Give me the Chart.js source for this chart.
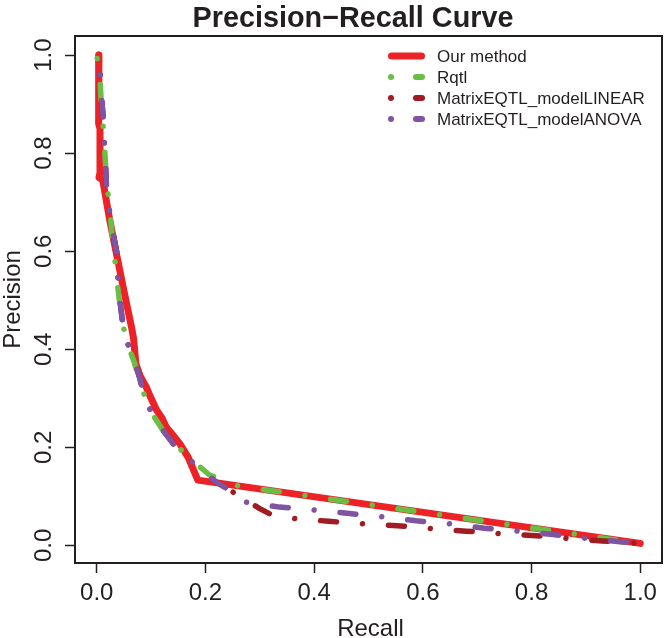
<!DOCTYPE html>
<html><head><meta charset="utf-8">
<script src="https://cdn.jsdelivr.net/npm/chart.js@4/dist/chart.umd.min.js"></script>
<style>html,body{margin:0;padding:0;background:#fff}#wrap{width:664px;height:638px}</style>
</head><body><div id="wrap"><canvas id="c" width="664" height="638"></canvas></div>
<script>
const TITLE = "Precision\u2212Recall Curve";
const X_LABEL = "Recall";
const Y_LABEL = "Precision";
const TICKS = [0, 0.2, 0.4, 0.6, 0.8, 1.0];
const TICK_LABELS = ["0.0", "0.2", "0.4", "0.6", "0.8", "1.0"];
const SERIES_NAMES = ["Our method", "Rqtl", "MatrixEQTL_modelLINEAR", "MatrixEQTL_modelANOVA"];
const SERIES_COLORS = ["#ec2227", "#6cbd45", "#a01c22", "#7e54a3"];

const OUR_RECALL    = [0.004, 0.004, 0.003, 0.006, 0.006, 0.004, 0.011, 0.024, 0.036, 0.051, 0.064, 0.068, 0.072, 0.080, 0.091, 0.100, 0.110, 0.120, 0.128, 0.140, 0.153, 0.168, 0.186, 1.000];
const OUR_PRECISION = [1.000, 0.870, 0.860, 0.850, 0.760, 0.750, 0.745, 0.663, 0.596, 0.514, 0.445, 0.420, 0.370, 0.345, 0.323, 0.300, 0.276, 0.260, 0.241, 0.225, 0.207, 0.180, 0.133, 0.004];

const RQTL_RECALL    = [0.000, 0.006, 0.009, 0.013, 0.017, 0.021, 0.026, 0.030, 0.036, 0.039, 0.045, 0.052, 0.060, 0.070, 0.082, 0.100, 0.128, 0.165, 0.190, 0.208, 0.220, 0.257, 0.318, 1.000];
const RQTL_PRECISION = [1.000, 0.950, 0.890, 0.840, 0.760, 0.714, 0.660, 0.612, 0.558, 0.524, 0.470, 0.430, 0.400, 0.371, 0.323, 0.272, 0.224, 0.184, 0.160, 0.143, 0.139, 0.122, 0.112, 0.004];

const LINEAR_RECALL    = [0.000, 0.006, 0.007, 0.009, 0.011, 0.013, 0.014, 0.016, 0.018, 0.021, 0.024, 0.029, 0.037, 0.039, 0.042, 0.048, 0.055, 0.058, 0.076, 0.091, 0.113, 0.143, 0.189, 0.220, 0.250, 0.300, 0.324, 0.364, 0.427, 0.490, 0.553, 0.616, 0.680, 0.742, 0.818, 0.868, 0.930, 1.000];
const LINEAR_PRECISION = [1.000, 0.970, 0.940, 0.910, 0.885, 0.855, 0.820, 0.780, 0.730, 0.704, 0.677, 0.643, 0.596, 0.548, 0.507, 0.450, 0.422, 0.408, 0.354, 0.292, 0.248, 0.204, 0.156, 0.129, 0.109, 0.075, 0.061, 0.055, 0.049, 0.044, 0.040, 0.034, 0.029, 0.024, 0.019, 0.014, 0.009, 0.004];

const ANOVA_RECALL    = [0.000, 0.006, 0.007, 0.009, 0.011, 0.013, 0.014, 0.016, 0.018, 0.021, 0.024, 0.029, 0.037, 0.039, 0.042, 0.048, 0.055, 0.058, 0.076, 0.091, 0.113, 0.143, 0.189, 0.220, 0.250, 0.275, 0.336, 0.400, 0.465, 0.526, 0.588, 0.652, 0.713, 0.778, 0.839, 0.903, 0.967, 1.000];
const ANOVA_PRECISION = [1.000, 0.970, 0.940, 0.910, 0.885, 0.855, 0.820, 0.780, 0.730, 0.704, 0.677, 0.643, 0.596, 0.548, 0.507, 0.450, 0.422, 0.408, 0.354, 0.292, 0.248, 0.204, 0.156, 0.129, 0.109, 0.088, 0.078, 0.072, 0.065, 0.058, 0.050, 0.044, 0.035, 0.029, 0.022, 0.014, 0.007, 0.004];

const INK = "#231f20";
const FONT = "'Liberation Sans', Arial, Helvetica, sans-serif";
const DOTDASH = [0.01, 26, 16, 26];
const DASH_OFFSETS = [0, 64.5, 47.9, 47.9];
// LINEAR leaves the ANOVA path at this point; its dash phase restarts there
const LINEAR_SPLIT_INDEX = 24;
const LINEAR_TAIL_OFFSET = 67.4;

function pts(xs, ys) { return xs.map((x, i) => ({ x: x, y: ys[i] })); }

const seriesData = [
  pts(OUR_RECALL, OUR_PRECISION),
  pts(RQTL_RECALL, RQTL_PRECISION),
  pts(LINEAR_RECALL, LINEAR_PRECISION),
  pts(ANOVA_RECALL, ANOVA_PRECISION)
];

const datasets = seriesData.map((d, i) => {
  const ds = {
    label: SERIES_NAMES[i],
    data: d,
    showLine: true,
    borderColor: SERIES_COLORS[i],
    backgroundColor: SERIES_COLORS[i],
    borderWidth: i === 0 ? 7 : 5.5,
    borderDash: i === 0 ? [] : DOTDASH,
    borderDashOffset: DASH_OFFSETS[i],
    borderCapStyle: 'round',
    borderJoinStyle: 'round',
    pointRadius: 0,
    pointHoverRadius: 0,
    tension: 0,
    fill: false,
    order: 4 - i
  };
  if (i === 2) {
    ds.segment = {
      borderDashOffset: c => (c.p0DataIndex >= LINEAR_SPLIT_INDEX ? LINEAR_TAIL_OFFSET : DASH_OFFSETS[2])
    };
  }
  return ds;
});

const decor = {
  id: 'decor',
  afterDraw(chart) {
    const ctx = chart.ctx;
    const ca = chart.chartArea;
    const ys = chart.scales.y;
    ctx.save();
    ctx.strokeStyle = INK;
    ctx.lineWidth = 2;
    ctx.strokeRect(ca.left, ca.top, ca.right - ca.left, ca.bottom - ca.top);
    ctx.fillStyle = INK;
    ctx.font = "24px " + FONT;
    ctx.textAlign = 'center';
    ctx.textBaseline = 'alphabetic';
    TICKS.forEach((v, i) => {
      const py = ys.getPixelForValue(v);
      ctx.save();
      ctx.translate(51, py);
      ctx.rotate(-Math.PI / 2);
      ctx.fillText(TICK_LABELS[i], 0, 0);
      ctx.restore();
    });
    ctx.save();
    ctx.translate(20, (ca.top + ca.bottom) / 2);
    ctx.rotate(-Math.PI / 2);
    ctx.fillText(Y_LABEL, 0, 0);
    ctx.restore();
    ctx.fillText(X_LABEL, (ca.left + ca.right) / 2 + 2, 636);
    ctx.font = "bold 28.8px " + FONT;
    ctx.fillText(TITLE, 353, 27);
    const lx0 = 388, lx1 = 425, tx = 437;
    ctx.font = "17px " + FONT;
    ctx.textAlign = 'left';
    ctx.textBaseline = 'middle';
    SERIES_NAMES.forEach((name, i) => {
      const y = 56 + i * 21;
      ctx.strokeStyle = SERIES_COLORS[i];
      ctx.lineCap = 'round';
      if (i === 0) {
        ctx.lineWidth = 7;
        ctx.beginPath(); ctx.moveTo(lx0 + 3.5, y); ctx.lineTo(lx1 - 3.5, y); ctx.stroke();
      } else {
        ctx.lineWidth = 6;
        ctx.beginPath(); ctx.moveTo(lx0 + 3, y); ctx.lineTo(lx0 + 3.01, y); ctx.stroke();
        ctx.beginPath(); ctx.moveTo(413 + 3, y); ctx.lineTo(lx1 - 3, y); ctx.stroke();
      }
      ctx.fillStyle = INK;
      ctx.fillText(name, tx, y + 1);
    });
    ctx.restore();
  }
};

new Chart(document.getElementById('c'), {
  type: 'scatter',
  data: { datasets: datasets },
  options: {
    responsive: false,
    animation: false,
    devicePixelRatio: 1,
    layout: { padding: { top: 36, right: 2, left: 0, bottom: 0 } },
    plugins: { legend: { display: false }, title: { display: false }, tooltip: { enabled: false } },
    scales: {
      x: {
        type: 'linear', min: -0.04, max: 1.04,
        afterBuildTicks: s => { s.ticks = TICKS.map(v => ({ value: v })); },
        afterFit: s => { s.height = 75; },
        ticks: {
          callback: (v) => TICK_LABELS[TICKS.indexOf(v)] ?? '',
          font: { size: 24, family: FONT }, color: INK, padding: 6, maxRotation: 0, autoSkip: false
        },
        grid: { drawOnChartArea: false, drawTicks: true, tickLength: 10, tickWidth: 1.5, tickColor: INK },
        border: { display: false }
      },
      y: {
        type: 'linear', min: -0.036, max: 1.039,
        afterBuildTicks: s => { s.ticks = TICKS.map(v => ({ value: v })); },
        afterFit: s => { s.width = 75; },
        ticks: { display: false },
        grid: { drawOnChartArea: false, drawTicks: true, tickLength: 10, tickWidth: 1.5, tickColor: INK },
        border: { display: false }
      }
    }
  },
  plugins: [decor]
});
</script>
</body></html>
